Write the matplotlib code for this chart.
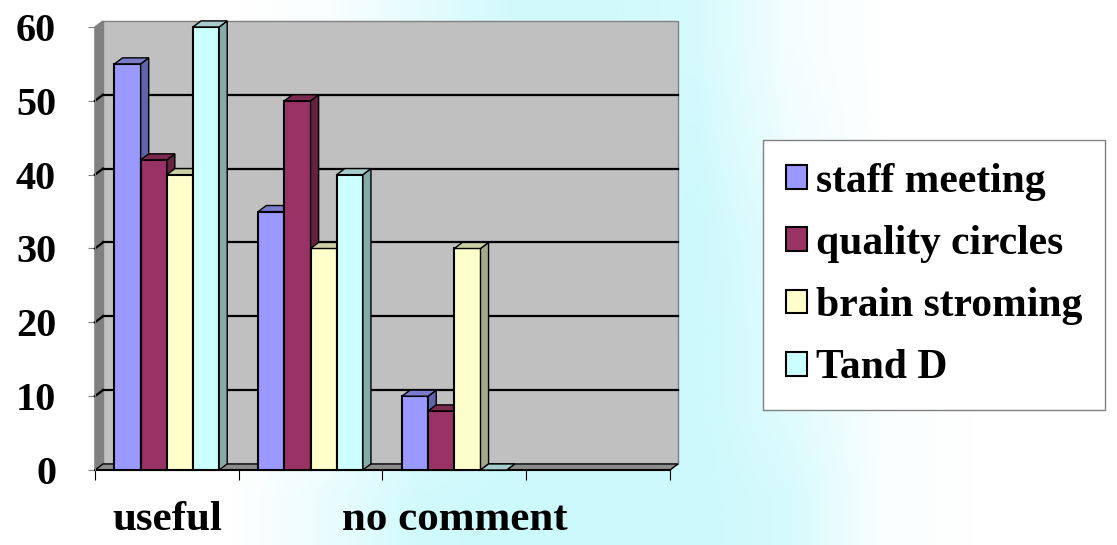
"""
3D-style clustered column chart: usefulness of staff meeting, quality circles,
brain stroming and T and D.
"""
import numpy as np
import matplotlib
matplotlib.use("Agg")
import matplotlib.pyplot as plt
from matplotlib.patches import Rectangle, Polygon

plt.rcParams["font.family"] = ["Liberation Serif", "DejaVu Serif"]
plt.rcParams["font.weight"] = "bold"

# data
cat_labels = ["useful", "", "no comment", ""]
series = ["staff meeting", "quality circles", "brain stroming", "Tand D"]
staff_meeting = [55, 35, 10, None]
quality_circles = [42, 50, 8, None]
brain_stroming = [40, 30, 30, None]
t_and_d = [60, 40, 0, None]
values = [staff_meeting, quality_circles, brain_stroming, t_and_d]
yticks = [0, 10, 20, 30, 40, 50, 60]

front_cols = ["#9999ff", "#993366", "#ffffcc", "#ccffff"]
side_cols = ["#6262a8", "#66213f", "#a8a887", "#84aaaa"]
top_cols = ["#7b7bcc", "#7a2950", "#cfcfa6", "#a6cccc"]

DX, DY = 0.056, 0.82   # depth offset in data units
W = 0.182              # bar width

fig = plt.figure(figsize=(11.17, 5.45), dpi=100)

# faint cyan watermark behind everything
wm = np.array([
    [0, 0, 0, 0.1, 0.5, 0.9, 0.9, 0.8, 0.2, 0, 0, 0],
    [0, 0, 0, 0.1, 0.5, 0.9, 0.9, 0.9, 0.3, 0, 0, 0],
    [0, 0, 0, 0.0, 0.3, 0.6, 0.8, 1.0, 0.5, 0, 0, 0],
    [0, 0, 0, 0.0, 0.3, 0.6, 0.8, 1.0, 0.6, 0.1, 0, 0],
    [0, 0, 0, 0.1, 0.6, 0.9, 0.9, 1.0, 0.6, 0.1, 0, 0],
    [0, 0, 0, 0.4, 0.9, 1.0, 1.0, 1.0, 0.8, 0.1, 0, 0],
])
rgba = np.zeros(wm.shape + (4,))
rgba[..., 0], rgba[..., 1], rgba[..., 2] = 0.80, 0.98, 0.99
rgba[..., 3] = wm
bg = fig.add_axes([0, 0, 1, 1], zorder=0)
bg.imshow(rgba, interpolation="bilinear", aspect="auto", extent=(0, 1, 0, 1))
bg.axis("off")

ax = fig.add_axes([0.0850, 0.1376, 0.5148, 0.8129], zorder=1)
ax.patch.set_alpha(0)
ncat = len(cat_labels)
ax.set_xlim(0, ncat)
ax.set_ylim(0, 60)

# walls and floor
ymax = yticks[-1]
ax.add_patch(Rectangle((DX, DY), ncat, ymax, fc="#c0c0c0", ec="#808080", lw=1,
                       clip_on=False, zorder=1))
ax.add_patch(Polygon([(0, 0), (DX, DY), (DX, ymax + DY), (0, ymax)],
                     fc="#808080", ec="#808080", lw=1, clip_on=False, zorder=1))
ax.add_patch(Polygon([(0, 0), (DX, DY), (ncat + DX, DY), (ncat, 0)],
                     fc="#8c8c8c", ec="black", lw=1, clip_on=False, zorder=1))
for v in yticks[1:-1]:
    ax.plot([DX, ncat + DX], [v + DY, v + DY], color="black", lw=1.6, zorder=2,
            clip_on=False)
    ax.plot([0, DX], [v, v + DY], color="black", lw=1.6, zorder=2, clip_on=False)
ax.plot([0, ncat], [0, 0], color="black", lw=1.5, zorder=2, clip_on=False)

# bars
z = 3
for i in range(ncat):
    x0 = i + 0.5 - 2 * W
    for s in range(len(series)):
        h = values[s][i]
        if h is None:
            continue
        x = x0 + s * W
        ax.add_patch(Rectangle((x, 0), W, h, fc=front_cols[s], ec="black", lw=1.5,
                               clip_on=False, zorder=z))
        ax.add_patch(Polygon([(x + W, 0), (x + W + DX, DY), (x + W + DX, h + DY), (x + W, h)],
                             fc=side_cols[s], ec="black", lw=1, clip_on=False, zorder=z))
        ax.add_patch(Polygon([(x, h), (x + DX, h + DY), (x + W + DX, h + DY), (x + W, h)],
                             fc=top_cols[s], ec="black", lw=1, clip_on=False, zorder=z))
        z += 1

# axes styling
for side in ["top", "right", "bottom"]:
    ax.spines[side].set_visible(False)
ax.spines["left"].set_color("#808080")
ax.spines["left"].set_zorder(2)
ax.set_yticks(yticks)
ax.set_yticklabels([str(v) for v in yticks], fontsize=29, fontweight="bold")
ax.tick_params(axis="y", length=5, color="#808080", pad=23)
ax.set_xticks(range(ncat + 1))
ax.set_xticklabels([])
ax.tick_params(axis="x", which="major", length=7, color="black")
ax.set_xticks([i + 0.5 for i in range(ncat)], minor=True)
ax.set_xticklabels(cat_labels, minor=True, fontsize=31, fontweight="bold")
ax.tick_params(axis="x", which="minor", length=0, pad=22)

handles = [Rectangle((0, 0), 1, 1, fc=c, ec="black", lw=1.5) for c in front_cols]
leg = fig.legend(handles, series, loc="upper left",
                 bbox_to_anchor=(763 / 1117, 1 - 140 / 545),
                 prop=dict(family="Liberation Serif", weight="bold", size=30),
                 handlelength=0.5, handleheight=0.5, handletextpad=0.22,
                 borderpad=0.55, labelspacing=0.58, borderaxespad=0,
                 fancybox=False, framealpha=1, edgecolor="#808080")
leg.get_frame().set_linewidth(1)

fig.savefig("out.png", dpi=100)
